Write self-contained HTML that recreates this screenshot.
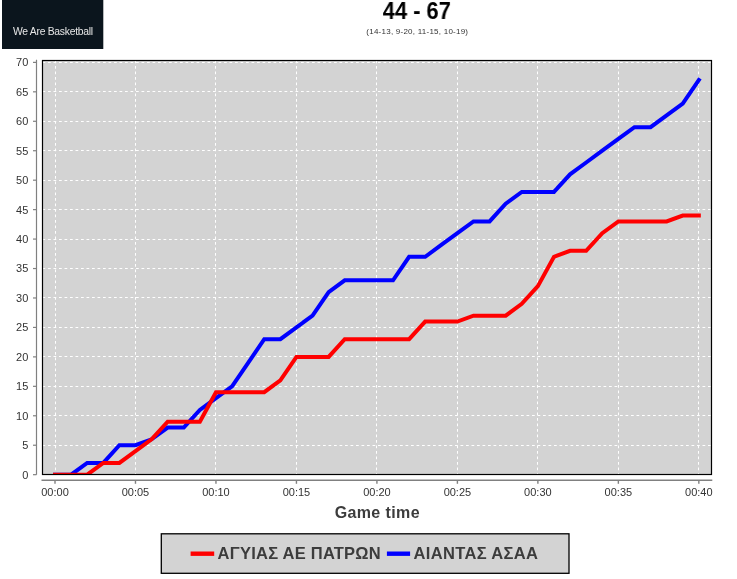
<!DOCTYPE html>
<html><head><meta charset="utf-8"><style>
html,body{margin:0;padding:0;background:#fff;width:737px;height:579px;overflow:hidden}
svg{display:block;will-change:transform}
text{font-family:"Liberation Sans",sans-serif}
</style></head><body>
<svg width="737" height="579" viewBox="0 0 737 579">
<rect x="2" y="0" width="101.3" height="49" fill="#0b151d"/>
<text x="13" y="35.3" font-size="11.5" fill="#e6e6e6" transform="translate(13 0) scale(0.9 1) translate(-13 0)" letter-spacing="-0.3">We Are Basketball</text>
<text x="416.8" y="18.9" font-size="23.1" font-weight="bold" text-anchor="middle" fill="#000" transform="translate(416.8 0) scale(0.945 1) translate(-416.8 0)">44 - 67</text>
<text x="417.3" y="33.5" font-size="8" text-anchor="middle" fill="#333" letter-spacing="0.24">(14-13, 9-20, 11-15, 10-19)</text>
<rect x="42.5" y="60.5" width="669.0" height="414.0" fill="#d3d3d3"/>
<g stroke="#fff" stroke-width="1" stroke-dasharray="2.75 2.75" fill="none">
<line x1="42.5" y1="474.50" x2="711.5" y2="474.50"/><line x1="42.5" y1="445.50" x2="711.5" y2="445.50"/><line x1="42.5" y1="415.50" x2="711.5" y2="415.50"/><line x1="42.5" y1="386.50" x2="711.5" y2="386.50"/><line x1="42.5" y1="356.50" x2="711.5" y2="356.50"/><line x1="42.5" y1="327.50" x2="711.5" y2="327.50"/><line x1="42.5" y1="297.50" x2="711.5" y2="297.50"/><line x1="42.5" y1="268.50" x2="711.5" y2="268.50"/><line x1="42.5" y1="239.50" x2="711.5" y2="239.50"/><line x1="42.5" y1="209.50" x2="711.5" y2="209.50"/><line x1="42.5" y1="180.50" x2="711.5" y2="180.50"/><line x1="42.5" y1="150.50" x2="711.5" y2="150.50"/><line x1="42.5" y1="121.50" x2="711.5" y2="121.50"/><line x1="42.5" y1="91.50" x2="711.5" y2="91.50"/><line x1="42.5" y1="62.50" x2="711.5" y2="62.50"/><line x1="55.50" y1="60.5" x2="55.50" y2="474.5"/><line x1="135.50" y1="60.5" x2="135.50" y2="474.5"/><line x1="215.50" y1="60.5" x2="215.50" y2="474.5"/><line x1="296.50" y1="60.5" x2="296.50" y2="474.5"/><line x1="376.50" y1="60.5" x2="376.50" y2="474.5"/><line x1="457.50" y1="60.5" x2="457.50" y2="474.5"/><line x1="537.50" y1="60.5" x2="537.50" y2="474.5"/><line x1="618.50" y1="60.5" x2="618.50" y2="474.5"/><line x1="698.50" y1="60.5" x2="698.50" y2="474.5"/>
</g>
<svg x="42.5" y="60.5" width="669.0" height="414.0" viewBox="42.5 60.5 669.0 414.0" overflow="hidden">
<polyline points="55.00,474.68 71.10,474.68 87.19,462.90 103.29,462.90 119.38,445.23 135.48,445.23 151.58,439.34 167.67,427.56 183.77,427.56 199.86,409.89 215.96,398.11 232.06,386.33 248.15,362.77 264.25,339.21 280.34,339.21 296.44,327.43 312.54,315.65 328.63,292.09 344.73,280.31 360.82,280.31 376.92,280.31 393.02,280.31 409.11,256.75 425.21,256.75 441.30,244.97 457.40,233.19 473.50,221.41 489.59,221.41 505.69,203.74 521.78,191.96 537.88,191.96 553.98,191.96 570.07,174.29 586.17,162.51 602.26,150.73 618.36,138.95 634.46,127.17 650.55,127.17 666.65,115.39 682.74,103.61 698.84,80.05" fill="none" stroke="#0000ff" stroke-width="4" stroke-linecap="square" stroke-linejoin="miter"/>
<polyline points="55.00,474.68 71.10,474.68 87.19,474.68 103.29,462.90 119.38,462.90 135.48,451.12 151.58,439.34 167.67,421.67 183.77,421.67 199.86,421.67 215.96,392.22 232.06,392.22 248.15,392.22 264.25,392.22 280.34,380.44 296.44,356.88 312.54,356.88 328.63,356.88 344.73,339.21 360.82,339.21 376.92,339.21 393.02,339.21 409.11,339.21 425.21,321.54 441.30,321.54 457.40,321.54 473.50,315.65 489.59,315.65 505.69,315.65 521.78,303.87 537.88,286.20 553.98,256.75 570.07,250.86 586.17,250.86 602.26,233.19 618.36,221.41 634.46,221.41 650.55,221.41 666.65,221.41 682.74,215.52 698.84,215.52" fill="none" stroke="#ff0000" stroke-width="4" stroke-linecap="square" stroke-linejoin="miter"/>
</svg>
<rect x="42.5" y="60.5" width="669.0" height="414.0" fill="none" stroke="#000" stroke-width="1.2"/>
<g stroke="#808080" stroke-width="1.2">
<line x1="36.5" y1="59.8" x2="36.5" y2="474.8"/>
<line x1="33" y1="474.68" x2="36.5" y2="474.68"/><line x1="33" y1="445.23" x2="36.5" y2="445.23"/><line x1="33" y1="415.78" x2="36.5" y2="415.78"/><line x1="33" y1="386.33" x2="36.5" y2="386.33"/><line x1="33" y1="356.88" x2="36.5" y2="356.88"/><line x1="33" y1="327.43" x2="36.5" y2="327.43"/><line x1="33" y1="297.98" x2="36.5" y2="297.98"/><line x1="33" y1="268.53" x2="36.5" y2="268.53"/><line x1="33" y1="239.08" x2="36.5" y2="239.08"/><line x1="33" y1="209.63" x2="36.5" y2="209.63"/><line x1="33" y1="180.18" x2="36.5" y2="180.18"/><line x1="33" y1="150.73" x2="36.5" y2="150.73"/><line x1="33" y1="121.28" x2="36.5" y2="121.28"/><line x1="33" y1="91.83" x2="36.5" y2="91.83"/><line x1="33" y1="62.38" x2="36.5" y2="62.38"/>
<line x1="41.5" y1="480.2" x2="712.3" y2="480.2" stroke-width="1.4"/>
<line x1="55.00" y1="480" x2="55.00" y2="483.8" stroke-width="1.4"/><line x1="135.48" y1="480" x2="135.48" y2="483.8" stroke-width="1.4"/><line x1="215.96" y1="480" x2="215.96" y2="483.8" stroke-width="1.4"/><line x1="296.44" y1="480" x2="296.44" y2="483.8" stroke-width="1.4"/><line x1="376.92" y1="480" x2="376.92" y2="483.8" stroke-width="1.4"/><line x1="457.40" y1="480" x2="457.40" y2="483.8" stroke-width="1.4"/><line x1="537.88" y1="480" x2="537.88" y2="483.8" stroke-width="1.4"/><line x1="618.36" y1="480" x2="618.36" y2="483.8" stroke-width="1.4"/><line x1="698.84" y1="480" x2="698.84" y2="483.8" stroke-width="1.4"/>
</g>
<g font-size="11" fill="#333" text-anchor="end">
<text x="28.3" y="478.58">0</text><text x="28.3" y="449.13">5</text><text x="28.3" y="419.68">10</text><text x="28.3" y="390.23">15</text><text x="28.3" y="360.78">20</text><text x="28.3" y="331.33">25</text><text x="28.3" y="301.88">30</text><text x="28.3" y="272.43">35</text><text x="28.3" y="242.98">40</text><text x="28.3" y="213.53">45</text><text x="28.3" y="184.08">50</text><text x="28.3" y="154.63">55</text><text x="28.3" y="125.18">60</text><text x="28.3" y="95.73">65</text><text x="28.3" y="66.28">70</text>
</g>
<g font-size="11" fill="#333" text-anchor="middle">
<text x="55.00" y="495.8">00:00</text><text x="135.48" y="495.8">00:05</text><text x="215.96" y="495.8">00:10</text><text x="296.44" y="495.8">00:15</text><text x="376.92" y="495.8">00:20</text><text x="457.40" y="495.8">00:25</text><text x="537.88" y="495.8">00:30</text><text x="618.36" y="495.8">00:35</text><text x="698.84" y="495.8">00:40</text>
</g>
<text x="377.3" y="518" font-size="16" font-weight="bold" fill="#3c3c3c" text-anchor="middle" letter-spacing="0.39">Game time</text>
<rect x="161.3" y="533.8" width="407.7" height="39.5" fill="#d3d3d3" stroke="#000" stroke-width="1.3"/>
<line x1="190.6" y1="553.7" x2="214.2" y2="553.7" stroke="#ff0000" stroke-width="4.4"/>
<text x="217.6" y="559.3" font-size="16.5" font-weight="bold" fill="#3c3c3c" letter-spacing="0.25">ΑΓΥΙΑΣ ΑΕ ΠΑΤΡΩΝ</text>
<line x1="386.9" y1="553.7" x2="410.1" y2="553.7" stroke="#0000ff" stroke-width="4.4"/>
<text x="413.6" y="559.3" font-size="16.5" font-weight="bold" fill="#3c3c3c" letter-spacing="0.33">ΑΙΑΝΤΑΣ ΑΣΑΑ</text>
</svg>
</body></html>
